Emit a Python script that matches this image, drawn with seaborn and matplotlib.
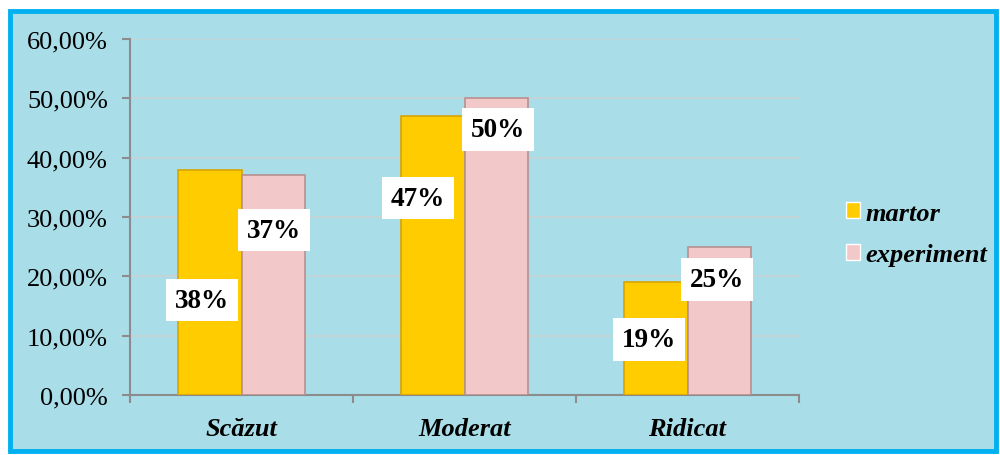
import numpy as np
import pandas as pd
import seaborn as sns
import matplotlib.pyplot as plt
from matplotlib.patches import Rectangle
from matplotlib.ticker import FuncFormatter, FixedLocator
from matplotlib.transforms import offset_copy

# values (percent)
categories = ["Scăzut", "Moderat", "Ridicat"]
series = ["martor", "experiment"]
martor = [38, 47, 19]
experiment = [37, 50, 25]
labels_martor = ["38%", "47%", "19%"]
labels_experiment = ["37%", "50%", "25%"]

# where the white label boxes sit (y in chart units, x offset in px)
label_y_martor = [16.0, 33.2, 9.3]
label_y_experiment = [27.8, 44.7, 19.4]
label_dx_martor = [-8, -15, -7]
label_dx_experiment = [1, 2, -2]

df = pd.DataFrame({
    "cat": categories * 2,
    "grup": [series[0]] * 3 + [series[1]] * 3,
    "val": martor + experiment,
})

sns.set_theme(style="white")
plt.rcParams['font.family'] = ['Liberation Serif', 'DejaVu Serif']
plt.rcParams['text.color'] = 'black'
plt.rcParams['xtick.color'] = 'black'
plt.rcParams['ytick.color'] = 'black'

fig = plt.figure(figsize=(10, 4.56), dpi=100)
fig.patch.set_facecolor("white")

# background panel with blue border
bg = Rectangle((10 / 1000, 4 / 456), 986 / 1000, 440 / 456, transform=fig.transFigure,
               facecolor="#a9dde8", edgecolor="#00b0f0", linewidth=3.5, zorder=-10)
fig.patches.append(bg)

ax = fig.add_axes([0.130, 0.1316, 0.669, 0.7807])
ax.set_facecolor("none")

colors = {"martor": "#ffcc00", "experiment": "#f2c8c8"}
sns.barplot(data=df, x="cat", y="val", hue="grup", palette=colors, width=0.57,
            ax=ax, legend=True, saturation=1)

edge = {"martor": "#d9a400", "experiment": "#b89090"}
for cont, s in zip(ax.containers, series):
    for p in cont:
        p.set_edgecolor(edge[s])
        p.set_linewidth(1.2)
        p.set_zorder(3)

ax.set_ylim(0, 60)
ax.set_xlim(-0.5, 2.5)
ax.set_yticks(np.arange(0, 61, 10))
ax.yaxis.set_major_formatter(FuncFormatter(lambda v, _: f"{v:.2f}%".replace(".", ",")))
ax.grid(axis="y", color="#c9d3d6", linewidth=1.2, zorder=0)
ax.set_axisbelow(True)

for s in ["top", "right"]:
    ax.spines[s].set_visible(False)
for s in ["left", "bottom"]:
    ax.spines[s].set_color("#8c8c8c")
    ax.spines[s].set_linewidth(1.5)

ax.tick_params(axis="y", which="major", left=True, length=6, width=1.5, color="#8c8c8c",
               labelsize=19, pad=10, labelcolor="black")
ax.tick_params(axis="x", which="major", bottom=False, labelsize=19, pad=10, labelcolor="black")
ax.xaxis.set_minor_locator(FixedLocator([-0.5, 0.5, 1.5, 2.5]))
ax.tick_params(axis="x", which="minor", bottom=True, length=6, width=1.5, color="#8c8c8c")
for t in ax.get_xticklabels():
    t.set_fontweight("bold")
    t.set_fontstyle("italic")
ax.set_xlabel("")
ax.set_ylabel("")

# data labels in white boxes
for cont, labs, ys, dxs in [(ax.containers[0], labels_martor, label_y_martor, label_dx_martor),
                            (ax.containers[1], labels_experiment, label_y_experiment, label_dx_experiment)]:
    for p, lab, y, dx in zip(cont, labs, ys, dxs):
        xc = p.get_x() + p.get_width() / 2
        tr = offset_copy(ax.transData, fig=fig, x=dx, y=0, units="dots")
        ax.text(xc, y, lab, transform=tr, ha="center", va="center", fontsize=19.5,
                fontweight="bold", color="black", zorder=5,
                bbox=dict(facecolor="white", edgecolor="none", boxstyle="square,pad=0.33"))

# legend
h, l = ax.get_legend_handles_labels()
leg = ax.legend(h, l, loc="center left", bbox_to_anchor=(822 / 1000, 1 - 235 / 456),
                bbox_transform=fig.transFigure, frameon=False, handlelength=0.55, handleheight=0.55,
                handletextpad=0.2, labelspacing=0.7,
                prop={"size": 19, "weight": "bold", "style": "italic", "family": "Liberation Serif"})
for t in leg.get_texts():
    t.set_color("black")

fig.savefig("out.png", dpi=100)
